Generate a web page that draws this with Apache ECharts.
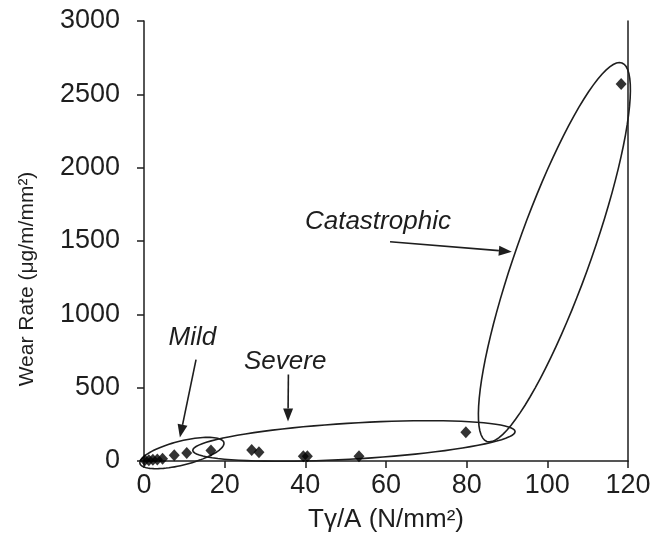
<!DOCTYPE html>
<html>
<head>
<meta charset="utf-8">
<title>Wear rate</title>
<script src="https://cdn.jsdelivr.net/npm/echarts@6/dist/echarts.min.js"></script>
<style>
    html, body { margin: 0; padding: 0; background: #fff; }
    #chart { width: 654px; height: 538px; }
</style>
</head>
<body>
<div id="chart"></div>
<script>
// measured points: T*gamma/A (N/mm2) vs wear rate (ug/m/mm2)
var loadX    = [0.2, 1.2, 2.2, 3.3, 4.6, 7.5, 10.6, 16.6, 26.7, 28.5, 39.5, 40.5, 53.3, 79.8, 118.3];
var wearRate = [5, 5, 8, 10, 15, 40, 55, 72, 75, 60, 32, 32, 32, 196, 2570];

var xTicks = [0, 20, 40, 60, 80, 100, 120];
var yTicks = [0, 500, 1000, 1500, 2000, 2500, 3000];

// regime annotations (data units)
var zoneNames   = ['Mild', 'Severe', 'Catastrophic'];
var zoneLabelAt = [[12.0, 841], [35.0, 678], [58.0, 1631]];
var arrowFrom   = [[12.9, 691], [35.8, 589], [61.0, 1495]];
var arrowTo     = [[8.9, 160], [35.7, 269], [91.2, 1427]];
var ellipseA    = [[-1.0, -17], [12.1, 72], [85.0, 133]];
var ellipseB    = [[19.8, 126], [92.0, 201], [118.5, 2714]];

var INK = '#1e1e1e';
var FONT = '"Liberation Sans", Arial, sans-serif';
var ELLIPSE_HALF = [12, 18, 37]; // minor half-width, px

var points = loadX.map(function (x, i) { return [x, wearRate[i]]; });

function plain(v) { return String(v); }

function renderEllipse(params, api) {
    var i = params.dataIndex;
    var p1 = api.coord(ellipseA[i]), p2 = api.coord(ellipseB[i]);
    var cx = (p1[0] + p2[0]) / 2, cy = (p1[1] + p2[1]) / 2;
    var dx = p2[0] - p1[0], dy = p2[1] - p1[1];
    var len = Math.sqrt(dx * dx + dy * dy);
    var ux = dx / len, uy = dy / len;
    var a = len / 2, b = ELLIPSE_HALF[i];
    var pts = [];
    for (var k = 0; k < 90; k++) {
        var t = k / 90 * Math.PI * 2;
        var ca = Math.cos(t) * a, sb = Math.sin(t) * b;
        pts.push([cx + ca * ux - sb * uy, cy + ca * uy + sb * ux]);
    }
    return {
        type: 'polygon',
        shape: { points: pts },
        style: { fill: 'none', stroke: INK, lineWidth: 1.6 }
    };
}

function renderArrow(params, api) {
    var i = params.dataIndex;
    var p0 = api.coord(arrowFrom[i]), p1 = api.coord(arrowTo[i]);
    var dx = p1[0] - p0[0], dy = p1[1] - p0[1];
    var len = Math.sqrt(dx * dx + dy * dy);
    var ux = dx / len, uy = dy / len;
    var hl = 13, hw = 5;
    var bx = p1[0] - ux * hl, by = p1[1] - uy * hl;
    return {
        type: 'group',
        children: [{
            type: 'line',
            shape: { x1: p0[0], y1: p0[1], x2: bx, y2: by },
            style: { stroke: INK, lineWidth: 1.6 }
        }, {
            type: 'polygon',
            shape: { points: [[p1[0], p1[1]], [bx - uy * hw, by + ux * hw], [bx + uy * hw, by - ux * hw]] },
            style: { fill: INK }
        }]
    };
}

function renderLabel(params, api) {
    var i = params.dataIndex;
    var p = api.coord(zoneLabelAt[i]);
    return {
        type: 'text',
        style: {
            text: zoneNames[i], x: p[0], y: p[1],
            fill: INK, font: 'italic 26px ' + FONT,
            align: 'center', verticalAlign: 'middle'
        }
    };
}

var chart = echarts.init(document.getElementById('chart'));
chart.setOption({
    animation: false,
    backgroundColor: '#fff',
    grid: { left: 144, right: 26, top: 21, bottom: 76 },
    xAxis: {
        type: 'value',
        min: xTicks[0], max: xTicks[xTicks.length - 1], interval: xTicks[1] - xTicks[0],
        name: 'T\u03b3/A (N/mm\u00b2)', nameLocation: 'middle', nameGap: 46,
        nameTextStyle: { fontFamily: FONT, fontSize: 26, color: INK },
        axisLine: { onZero: false, lineStyle: { color: INK, width: 1.5 } },
        axisTick: { inside: false, length: 7, lineStyle: { color: INK, width: 1.5 } },
        axisLabel: { margin: 11, fontFamily: FONT, fontSize: 27, color: INK, formatter: plain },
        splitLine: { show: false }
    },
    yAxis: [{
        type: 'value',
        min: yTicks[0], max: yTicks[yTicks.length - 1], interval: yTicks[1] - yTicks[0],
        name: 'Wear Rate (\u03bcg/m/mm\u00b2)', nameLocation: 'middle', nameGap: 106,
        nameTextStyle: { fontFamily: FONT, fontSize: 21, color: INK, padding: [0, 76, 0, 0] },
        axisLine: { show: true, onZero: false, lineStyle: { color: INK, width: 1.5 } },
        axisTick: { inside: false, length: 7, lineStyle: { color: INK, width: 1.5 } },
        axisLabel: { margin: 24, fontFamily: FONT, fontSize: 27, color: INK, formatter: plain },
        splitLine: { show: false }
    }, {
        type: 'value', position: 'right',
        min: yTicks[0], max: yTicks[yTicks.length - 1],
        axisLine: { show: true, onZero: false, lineStyle: { color: INK, width: 1.5 } },
        axisTick: { show: false }, axisLabel: { show: false }, splitLine: { show: false }
    }],
    series: [{
        type: 'custom', renderItem: renderEllipse, data: zoneNames, silent: true, z: 3
    }, {
        type: 'custom', renderItem: renderArrow, data: zoneNames, silent: true, z: 3
    }, {
        type: 'custom', renderItem: renderLabel, data: zoneNames, silent: true, z: 3
    }, {
        type: 'scatter', data: points, symbol: 'diamond', symbolSize: [11, 12],
        itemStyle: { color: '#000' }, z: 4
    }]
});
</script>
</body>
</html>
